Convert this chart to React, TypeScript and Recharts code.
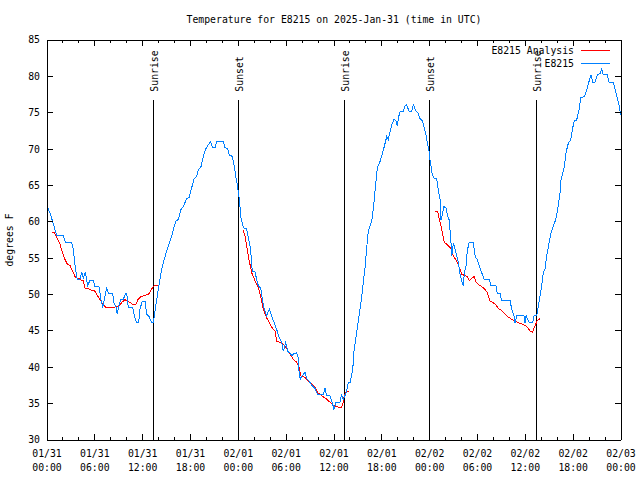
import React from 'react';
import { LineChart, Line, XAxis, YAxis, ReferenceLine, Legend } from 'recharts';

const FONT = '"DejaVu Sans Mono", "Liberation Mono", monospace';
const FS = 9.8;

const chartTitle = 'Temperature for E8215 on 2025-Jan-31 (time in UTC)';
const yAxisTitle = 'degrees F';
const seriesNames = ['E8215 Analysis', 'E8215'];
const seriesColors = ['#ff0000', '#0080ff'];

// E8215 observations (hours since 01/31 00:00 UTC, degrees F)
const blueHours = [
  0.0, 0.38, 0.66, 0.88, 1.22, 2.04, 2.35, 3.1, 3.3, 3.55,
  3.8, 4.14, 4.35, 4.55, 4.8, 5.11, 5.39, 5.81, 6.02, 6.52,
  6.77, 6.99, 7.19, 7.49, 7.69, 8.24, 8.4, 8.66, 8.82, 8.99,
  9.28, 9.57, 9.82, 10.0, 10.2, 10.75, 10.95, 11.25, 11.5, 11.67,
  11.95, 12.29, 12.51, 12.79, 13.13, 13.33, 13.55, 13.76, 13.96, 14.3,
  14.59, 15.01, 15.3, 15.64, 16.14, 16.47, 16.81, 17.1, 17.52, 17.81,
  18.03, 18.44, 18.78, 18.98, 19.32, 19.61, 19.91, 20.23, 20.53, 20.78,
  21.07, 21.29, 22.11, 22.33, 22.67, 22.87, 23.24, 23.5, 23.67, 23.87,
  24.08, 24.34, 24.63, 25.05, 25.25, 25.46, 25.59, 25.75, 26.09, 26.3,
  26.51, 26.81, 27.01, 27.26, 27.56, 27.89, 28.19, 28.51, 28.81, 29.06,
  29.44, 29.64, 29.94, 30.27, 30.48, 30.69, 30.98, 31.32, 31.52, 31.65,
  31.82, 31.99, 32.36, 32.58, 32.9, 33.2, 33.62, 33.91, 34.66, 34.87,
  35.09, 35.5, 35.84, 36.0, 36.25, 36.75, 36.92, 37.17, 37.42, 37.59,
  37.79, 38.01, 38.35, 38.51, 38.76, 39.05, 39.35, 39.6, 39.89, 40.1,
  40.3, 40.52, 40.8, 41.02, 41.27, 41.43, 41.77, 41.98, 42.27, 42.61,
  42.81, 43.03, 43.24, 43.53, 43.78, 43.94, 44.15, 44.28, 44.69, 44.91,
  45.12, 45.41, 45.75, 45.95, 46.29, 46.57, 46.79, 47.13, 47.33, 47.54,
  47.75, 47.92, 48.04, 48.33, 48.54, 48.88, 49.08, 49.3, 49.42, 49.59,
  49.8, 50.05, 50.21, 50.43, 50.64, 50.77, 50.97, 51.18, 51.39, 51.59,
  51.81, 52.02, 52.22, 52.35, 52.56, 52.72, 52.93, 53.48, 53.73, 53.98,
  54.23, 54.53, 54.85, 55.48, 55.69, 56.32, 56.48, 56.82, 57.03, 58.08,
  58.29, 58.58, 58.7, 58.92, 59.83, 59.96, 60.09, 60.5, 60.92, 61.09,
  61.43, 61.63, 61.93, 62.26, 62.47, 62.68, 62.97, 63.22, 63.51, 63.81,
  64.06, 64.35, 64.48, 64.69, 64.89, 65.1, 65.39, 65.69, 65.94, 66.14,
  66.44, 66.73, 66.98, 67.4, 67.7, 67.99, 68.24, 68.45, 68.74, 69.03,
  69.37, 69.58, 69.78, 70.28, 70.53, 71.04, 71.29, 71.54, 71.79, 71.96,
];
const blueTemps = [
  62.2, 61.2, 60.2, 59.4, 58.1, 58.1, 57.1, 57.1, 56.2, 53.7,
  52.1, 52.1, 53.1, 52.2, 53.1, 51.2, 52.0, 52.0, 51.1, 51.1,
  49.3, 48.2, 49.3, 50.9, 50.2, 50.1, 48.9, 48.3, 47.3, 48.4,
  49.3, 49.3, 50.1, 50.1, 48.2, 48.2, 47.1, 46.1, 46.1, 48.0,
  49.1, 49.1, 47.3, 47.0, 46.1, 46.1, 47.8, 49.3, 50.7, 53.0,
  54.4, 56.0, 56.9, 58.0, 60.1, 60.3, 61.7, 62.1, 63.2, 63.3,
  64.2, 65.9, 66.3, 67.1, 67.6, 69.0, 70.0, 70.6, 71.0, 70.2,
  70.2, 71.0, 71.0, 70.2, 70.0, 69.2, 69.0, 67.6, 66.3, 65.1,
  63.5, 60.5, 59.2, 59.0, 57.8, 56.7, 55.4, 53.2, 53.1, 52.1,
  51.2, 50.9, 49.3, 48.0, 47.1, 48.0, 47.0, 46.1, 45.2, 44.3,
  43.4, 42.2, 43.4, 42.0, 42.0, 41.6, 41.9, 42.0, 41.3, 38.8,
  38.4, 38.8, 39.3, 38.4, 38.1, 37.5, 37.1, 36.3, 36.3, 37.1,
  36.1, 36.1, 34.9, 34.2, 35.2, 35.2, 36.2, 35.6, 36.2, 36.8,
  37.9, 37.9, 39.7, 42.2, 44.1, 46.4, 48.6, 50.9, 53.7, 56.4,
  58.7, 59.4, 60.5, 62.8, 65.6, 67.4, 68.3, 69.0, 70.2, 71.7,
  71.3, 72.4, 73.3, 74.1, 73.9, 73.2, 74.6, 75.1, 75.2, 75.9,
  76.1, 75.2, 75.2, 76.1, 75.2, 74.9, 74.2, 73.8, 72.9, 72.0,
  70.6, 69.7, 68.5, 66.5, 66.0, 66.0, 64.4, 63.1, 60.3, 61.0,
  62.1, 61.9, 61.0, 60.3, 57.8, 55.3, 57.1, 56.2, 55.3, 54.4,
  52.8, 51.9, 51.2, 53.0, 53.9, 56.0, 57.1, 57.1, 55.1, 54.8,
  53.9, 53.0, 52.1, 52.1, 51.2, 51.2, 50.2, 50.2, 49.2, 49.2,
  48.0, 47.1, 46.1, 47.1, 47.1, 46.1, 47.1, 46.1, 46.1, 47.1,
  47.1, 48.4, 50.3, 53.0, 53.5, 55.3, 57.1, 58.5, 59.4, 60.3,
  61.7, 64.0, 65.8, 66.7, 67.6, 69.5, 70.8, 71.3, 72.9, 73.9,
  74.0, 75.4, 77.1, 77.2, 78.1, 79.3, 80.2, 79.2, 79.2, 80.2,
  80.4, 81.0, 80.2, 80.2, 79.1, 79.1, 78.1, 77.0, 75.9, 74.7,
];

// E8215 Analysis (null = gap between analysis periods)
const redHours = [
  0.59, 0.88, 1.22, 1.63, 1.97, 2.26, 2.55, 2.89, 3.22, 3.51,
  3.8, 4.05, 4.35, 4.55, 4.77, 5.18, 5.61, 5.93, 6.23, 6.56,
  6.86, 7.28, 7.69, 8.12, 8.53, 8.94, 9.37, 9.78, 10.07, 10.41,
  10.83, 11.13, 11.45, 11.79, 12.29, 12.71, 13.05, 13.33, 13.58, 13.96,
  19.0,
  24.62, 24.84, 25.05, 25.34, 25.68, 26.09, 26.51, 26.84, 27.13, 27.56,
  27.89, 28.19, 28.6, 28.81, 29.23, 29.64, 29.98, 30.48, 30.9, 31.32,
  31.65, 31.82, 32.36, 32.78, 33.2, 33.62, 33.96, 34.46, 35.09, 35.5,
  35.91, 36.54, 36.97, 37.17, 37.29, 37.59, 37.92,
  43.0,
  48.67, 49.01, 49.17, 49.39, 49.59, 49.84, 50.14, 50.46, 50.77, 50.97,
  51.39, 51.72, 52.02, 52.43, 52.77, 52.97, 53.27, 53.56, 53.81, 54.1,
  54.53, 54.94, 55.23, 55.57, 55.9, 56.2, 56.61, 57.03, 57.45, 57.74,
  58.29, 58.7, 59.12, 59.75, 60.17, 60.59, 60.88, 61.21, 61.5, 61.84,
];
const redTemps = [
  58.6, 58.6, 57.8, 56.9, 55.7, 54.8, 54.2, 54.0, 53.2, 52.5,
  52.2, 52.2, 51.9, 51.9, 50.9, 50.8, 50.6, 50.6, 50.0, 49.5,
  48.9, 48.3, 48.2, 48.2, 48.3, 48.3, 48.9, 49.3, 49.1, 48.9,
  48.6, 48.6, 49.4, 49.7, 49.9, 50.0, 50.6, 51.1, 51.3, 51.3,
  null,
  58.9, 58.0, 56.7, 54.8, 53.0, 51.9, 50.9, 49.6, 48.0, 46.8,
  46.1, 45.5, 45.0, 43.6, 43.4, 43.2, 42.7, 41.8, 41.1, 40.7,
  40.0, 38.8, 38.6, 38.1, 37.7, 37.2, 36.5, 36.1, 35.6, 35.2,
  34.8, 34.5, 34.5, 35.2, 36.1, 36.7, 36.7,
  null,
  61.4, 61.4, 60.5, 59.6, 58.5, 57.2, 56.9, 56.6, 56.2, 55.3,
  54.6, 53.7, 52.8, 52.6, 52.4, 51.9, 52.2, 52.5, 51.7, 51.4,
  51.1, 50.7, 50.3, 49.1, 48.9, 48.7, 48.1, 47.8, 47.3, 47.0,
  46.6, 46.4, 46.1, 45.9, 45.6, 45.0, 44.8, 45.7, 46.4, 46.7,
];

const xMajorHours = [0, 6, 12, 18, 24, 30, 36, 42, 48, 54, 60, 66, 72];
const xTickHours = [0, 2, 4, 6, 8, 10, 12, 14, 16, 18, 20, 22, 24, 26, 28, 30, 32, 34, 36, 38, 40, 42, 44, 46, 48, 50, 52, 54, 56, 58, 60, 62, 64, 66, 68, 70, 72];
const xTickDates = ['01/31', '01/31', '01/31', '01/31', '02/01', '02/01', '02/01', '02/01', '02/02', '02/02', '02/02', '02/02', '02/03'];
const xTickTimes = ['00:00', '06:00', '12:00', '18:00', '00:00', '06:00', '12:00', '18:00', '00:00', '06:00', '12:00', '18:00', '00:00'];
const yTicks = [30, 35, 40, 45, 50, 55, 60, 65, 70, 75, 80, 85];

const sunHours = [13.33, 23.99, 37.37, 47.97, 61.42];
const sunLabels = ['Sunrise', 'Sunset', 'Sunrise', 'Sunset', 'Sunrise'];
const sunLineTop = 76.8;

const blueData = blueHours.map((t, i) => ({ t, v: blueTemps[i] }));
const redData = redHours.map((t, i) => ({ t, v: redTemps[i] }));

const BottomTick = (props: any) => {
  const { x, y, payload } = props;
  const h = payload.value;
  const idx = xMajorHours.indexOf(h);
  const major = idx >= 0;
  return (
    <g>
      <line x1={x} x2={x} y1={y} y2={y - (major ? 6 : 3)} stroke="#000" />
      {major && (
        <text x={x} y={y} textAnchor="middle" fontFamily={FONT} fontSize={FS} fill="#000">
          <tspan x={x} dy={16.5}>{xTickDates[idx]}</tspan>
          <tspan x={x} dy={14}>{xTickTimes[idx]}</tspan>
        </text>
      )}
    </g>
  );
};

const TopTick = (props: any) => {
  const { x, y, payload } = props;
  const major = xMajorHours.indexOf(payload.value) >= 0;
  return <line x1={x} x2={x} y1={y} y2={y + (major ? 6 : 3)} stroke="#000" />;
};

const LeftTick = (props: any) => {
  const { x, y, payload } = props;
  return (
    <g>
      <line x1={x} x2={x + 6} y1={y} y2={y} stroke="#000" />
      <text x={x - 7} y={y} dy="0.35em" textAnchor="end" fontFamily={FONT} fontSize={FS} fill="#000">
        {payload.value}
      </text>
    </g>
  );
};

const RightTick = (props: any) => {
  const { x, y } = props;
  return <line x1={x} x2={x - 6} y1={y} y2={y} stroke="#000" />;
};

const SunLabel = (props: any) => {
  const { viewBox, text } = props;
  if (!viewBox) return null;
  const cx = viewBox.x + 1;
  const cy = viewBox.y - 8;
  return (
    <text
      x={cx}
      y={cy}
      dy="0.35em"
      transform={`rotate(-90, ${cx}, ${cy})`}
      textAnchor="start"
      fontFamily={FONT}
      fontSize={FS}
      fill="#000"
    >
      {text}
    </text>
  );
};

const renderTitle = (props: any) => {
  const { viewBox } = props;
  if (!viewBox) return null;
  return (
    <text x={viewBox.x + viewBox.width / 2} y={viewBox.y + viewBox.height - 17} textAnchor="middle" fontFamily={FONT} fontSize={FS} fill="#000">
      {chartTitle}
    </text>
  );
};

const renderYLabel = (props: any) => {
  const { viewBox } = props;
  if (!viewBox) return null;
  const cx = viewBox.x + 3;
  const cy = viewBox.y + viewBox.height / 2;
  return (
    <text x={cx} y={cy} dy="0.35em" transform={`rotate(-90, ${cx}, ${cy})`} textAnchor="middle" fontFamily={FONT} fontSize={FS} fill="#000">
      {yAxisTitle}
    </text>
  );
};

const renderLegend = (props: any) => {
  const payload: any[] = props.payload || [];
  const ordered = seriesNames
    .map((n) => payload.find((p: any) => p.value === n))
    .filter(Boolean);
  return (
    <div style={{ fontFamily: FONT, fontSize: FS, color: '#000' }}>
      {ordered.map((entry: any, i: number) => (
        <div key={i} style={{ display: 'flex', justifyContent: 'flex-end', alignItems: 'center', height: 13 }}>
          <span style={{ whiteSpace: 'pre', lineHeight: '13px' }}>{entry.value}</span>
          <svg width={36} height={13} style={{ display: 'block' }}>
            <line x1={7} x2={36} y1={6.5} y2={6.5} stroke={seriesColors[seriesNames.indexOf(entry.value)]} strokeWidth={1} />
          </svg>
        </div>
      ))}
    </div>
  );
};

export default function App() {
  return (
    <div style={{ position: 'absolute', left: 0, top: 0, width: 640, height: 480, background: '#fff' }}>
      <LineChart
        width={640}
        height={480}
        margin={{ top: 20, right: 9, bottom: 10, left: 7 }}
        style={{ shapeRendering: 'crispEdges' }}
      >
        <XAxis
          xAxisId={0}
          dataKey="t"
          type="number"
          domain={[0, 72]}
          ticks={xTickHours}
          interval={0}
          allowDataOverflow
          height={30}
          tickSize={0}
          tickMargin={0}
          tick={<BottomTick />}
          tickLine={false}
          axisLine={{ stroke: '#000' }}
        />
        <XAxis
          xAxisId="top"
          orientation="top"
          dataKey="t"
          type="number"
          domain={[0, 72]}
          ticks={xTickHours}
          interval={0}
          allowDataOverflow
          height={20}
          tickSize={0}
          tickMargin={0}
          tick={<TopTick />}
          tickLine={false}
          axisLine={{ stroke: '#000' }}
          label={{ value: chartTitle, content: renderTitle }}
        />
        <YAxis
          yAxisId={0}
          type="number"
          domain={[30, 85]}
          ticks={yTicks}
          interval={0}
          allowDataOverflow
          width={40}
          tickSize={0}
          tickMargin={0}
          tick={<LeftTick />}
          tickLine={false}
          axisLine={{ stroke: '#000' }}
          label={{ value: yAxisTitle, content: renderYLabel }}
        />
        <YAxis
          yAxisId="right"
          orientation="right"
          type="number"
          domain={[30, 85]}
          ticks={yTicks}
          interval={0}
          allowDataOverflow
          width={10}
          tickSize={0}
          tickMargin={0}
          tick={<RightTick />}
          tickLine={false}
          axisLine={{ stroke: '#000' }}
        />
        {sunHours.map((h, i) => (
          <ReferenceLine
            key={i}
            xAxisId={0}
            yAxisId={0}
            segment={[{ x: h, y: sunLineTop }, { x: h, y: 30 }]}
            stroke="#000"
            strokeWidth={1}
            label={<SunLabel text={sunLabels[i]} />}
            ifOverflow="visible"
          />
        ))}
        <Line
          xAxisId={0}
          yAxisId={0}
          data={redData}
          dataKey="v"
          name={seriesNames[0]}
          stroke={seriesColors[0]}
          strokeWidth={1}
          dot={false}
          activeDot={false}
          type="linear"
          isAnimationActive={false}
        />
        <Line
          xAxisId={0}
          yAxisId={0}
          data={blueData}
          dataKey="v"
          name={seriesNames[1]}
          stroke={seriesColors[1]}
          strokeWidth={1}
          dot={false}
          activeDot={false}
          type="linear"
          isAnimationActive={false}
        />
        <Legend
          layout="vertical"
          align="center"
          verticalAlign="middle"
          content={renderLegend}
          wrapperStyle={{ position: 'absolute', left: 400, top: 44, width: 210, height: 26 }}
        />
      </LineChart>
    </div>
  );
}
